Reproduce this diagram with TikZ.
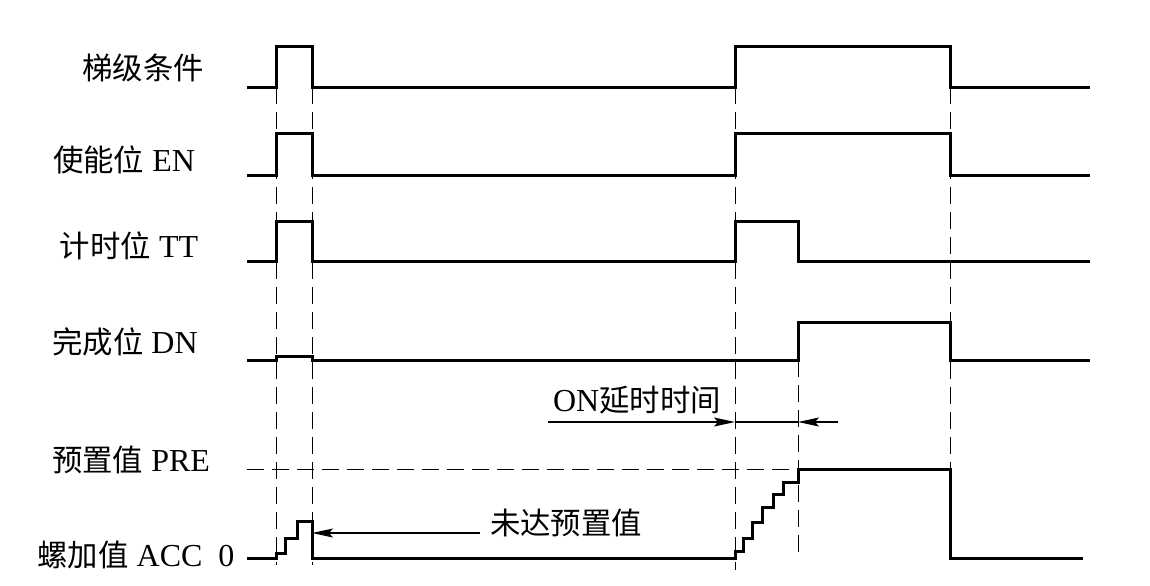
\documentclass[tikz,border=0pt]{standalone}
\usepackage{fontspec}
\setmainfont{Liberation Serif}
\newfontfamily\cjk[Scale=0.95]{Noto Sans CJK SC}
\usetikzlibrary{arrows.meta}

\begin{document}
\begin{tikzpicture}[x=0.5pt, y=-0.5pt,
				signal/.style={line width=1.5pt},
				guide/.style={line width=0.5pt, dash pattern=on 8.5pt off 4pt},
				sigtext/.style={font=\fontsize{16}{19}\selectfont, inner sep=0pt},
				dim/.style={line width=0.6pt, -{Stealth[length=10.5pt, width=4.5pt, inset=2pt]}}
				]
				\useasboundingbox (0,0) rectangle (1150,585);
				
				% signal names
				\node[sigtext] (ladder) at (143,68) {{\cjk 梯级条件}};
				\node[sigtext] (en) at (124,160) {{\cjk 使能位} EN};
				\node[sigtext] (tt) at (129,246) {{\cjk 计时位} TT};
				\node[sigtext] (dn) at (125,342) {{\cjk 完成位} DN};
				\node[sigtext] (pre) at (131,460) {{\cjk 预置值} PRE};
				\node[sigtext] (acc) at (136,555) {{\cjk 螺加值} ACC\ \ 0};
				
				% waveforms
				\draw[signal] (247,87) -| (276,46) -| (312,87) -| (735,46) -| (950,87) -- (1090,87);
				\draw[signal] (247,175) -| (276,133) -| (312,175) -| (735,133) -| (950,175) -- (1090,175);
				\draw[signal] (247,261) -| (276,221) -| (312,261) -| (735,221) -| (798,261) -- (1090,261);
				\draw[signal] (247,360) -| (276,356) -| (312,360) -| (798,322) -| (950,360) -- (1090,360);
				\draw[signal] (247,558) -| (276,553) -| (285,538) -| (297,521) -| (312,558)
					-| (735,551) -| (743,538) -| (752,522) -| (762,507) -| (773,494) -| (783,482)
					-| (798,469) -| (950,558) -- (1083,558);
				
				% dashed guides
				\draw[guide] (247,469) -- (798,469);
				\foreach \t in {276,312}
					\draw[guide] (\t,87) -- (\t,565);
				\draw[guide] (735,87) -- (735,570);
				\draw[guide] (798,360) -- (798,555);
				\draw[guide] (950,87) -- (950,469);
				
				% delay marks
				\coordinate (onL) at (548,422);
				\coordinate (onA) at (735,422);
				\coordinate (onB) at (798,422);
				\coordinate (onR) at (838,422);
				\node[sigtext] (ondelay) at (637,400) {ON{\cjk 延时时间}};
				\draw[dim] (onL) -- (onA);
				\draw[line width=0.6pt] (onA) -- (onB);
				\draw[dim] (onR) -- (onB);
				
				\coordinate (accTail) at (480,533);
				\coordinate (accDrop) at (312,533);
				\node[sigtext] (notpre) at (566,523) {{\cjk 未达预置值}};
				\draw[dim] (accTail) -- (accDrop);
				
			\end{tikzpicture}
\end{document}
